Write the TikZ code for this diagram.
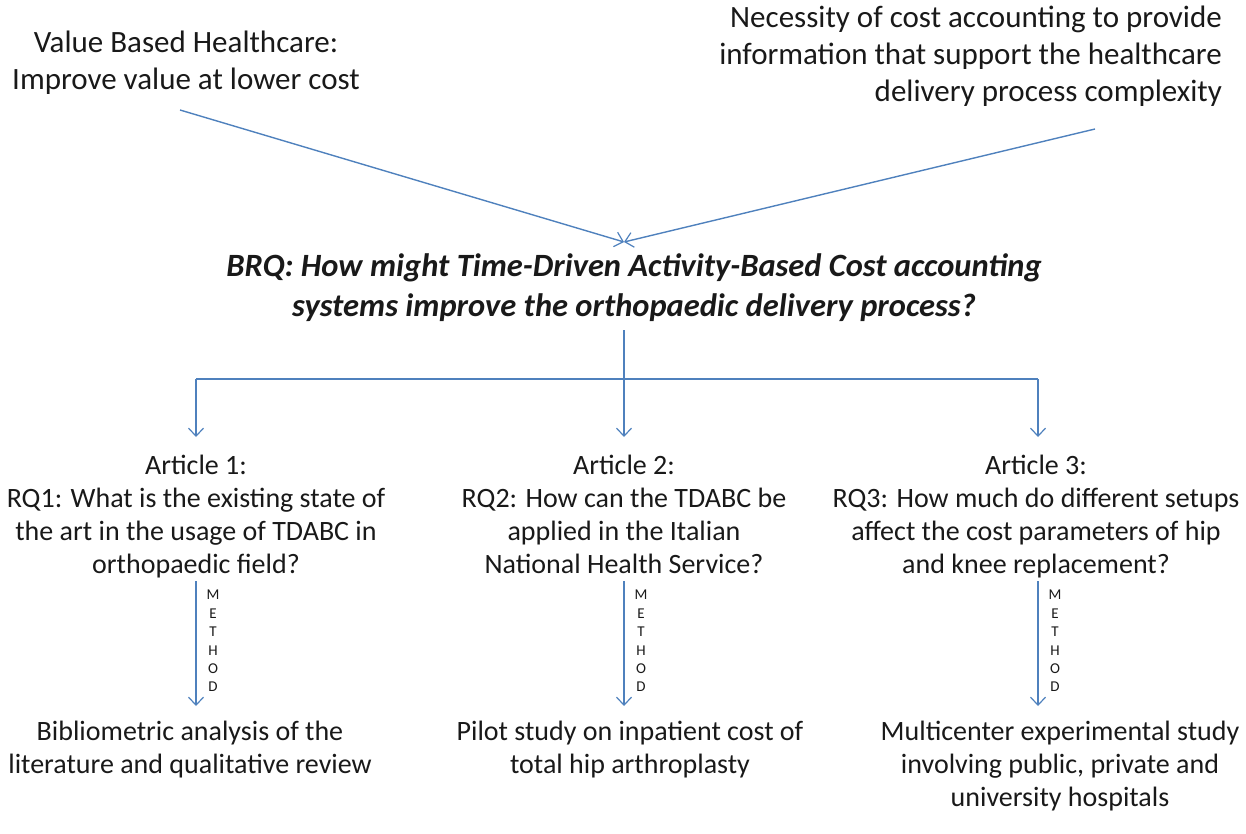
\documentclass[tikz,border=0pt]{standalone}
\usepackage{fontspec}
\setmainfont{Carlito}
\usetikzlibrary{arrows.meta}
\definecolor{linkblue}{RGB}{79,129,189}
\definecolor{inktext}{RGB}{25,25,25}
\tikzset{
  txt/.style={inner sep=0pt, align=center, text=inktext},
  toptxt/.style={txt, font=\fontsize{31}{37}\selectfont},
  bodytxt/.style={txt, font=\fontsize{28}{33}\selectfont},
  brqtxt/.style={txt, font=\fontsize{32.5}{40}\selectfont\bfseries\itshape},
  methodtxt/.style={txt, font=\fontsize{15}{18.4}\selectfont},
  link/.style={draw=linkblue, line width=1.4pt},
  arrowlink/.style={link, -{Straight Barb[length=8pt,width=15pt,line width=1.2pt]}},
}
\begin{document}
\begin{tikzpicture}[x=1pt,y=-1pt]
\useasboundingbox (0,0) rectangle (1246,834);

% premises
\node[toptxt] (vbh) at (186,63) {Value Based Healthcare:\\Improve value at lower cost};
\node[toptxt, align=right, anchor=east] (need) at (1222,56)
  {Necessity of cost accounting to provide\\information that support the healthcare\\delivery process complexity};

% main research question
\node[brqtxt] (brq) at (634,288)
  {BRQ: How might Time-Driven Activity-Based Cost accounting\\systems improve the orthopaedic delivery process?};

\coordinate (vbhout) at (180,110);
\coordinate (needout) at (1095,129);
\coordinate (brqin) at (624,242);
\draw[arrowlink] (vbhout) -- (brqin);
\draw[arrowlink] (needout) -- (brqin);

% branching to the three articles
\coordinate (brqout) at (624,330);
\coordinate (splitL) at (196,379);
\coordinate (splitR) at (1038,379);

% articles (top-aligned so the headings share one line)
\node[bodytxt, anchor=north] (art1) at (196,455)
  {Article 1:\\RQ1: What is the existing state of\\the art in the usage of TDABC in\\orthopaedic field?};
\node[bodytxt, anchor=north] (art2) at (624,455)
  {Article 2:\\RQ2: How can the TDABC be\\applied in the Italian\\National Health Service?};
\node[bodytxt, anchor=north] (art3) at (1036,455)
  {Article 3:\\RQ3: How much do different setups\\affect the cost parameters of hip\\and knee replacement?};

\coordinate (art1in) at (196,437);
\coordinate (art2in) at (624,437);
\coordinate (art3in) at (1038,437);

\draw[arrowlink] (brqout) -- (art2in);
\draw[link] (splitL) -- (splitR);
\draw[arrowlink] (splitL) -- (art1in);
\draw[arrowlink] (splitR) -- (art3in);

% methods
\coordinate (m1s) at (196,581);
\coordinate (m1e) at (196,706);
\coordinate (m2s) at (624,581);
\coordinate (m2e) at (624,706);
\coordinate (m3s) at (1038,581);
\coordinate (m3e) at (1038,706);
\draw[arrowlink] (m1s) -- (m1e);
\draw[arrowlink] (m2s) -- (m2e);
\draw[arrowlink] (m3s) -- (m3e);
\node[methodtxt] (lab1) at (213,641) {M\\E\\T\\H\\O\\D};
\node[methodtxt] (lab2) at (641,641) {M\\E\\T\\H\\O\\D};
\node[methodtxt] (lab3) at (1055,641) {M\\E\\T\\H\\O\\D};

% results
\node[bodytxt, anchor=north] (res1) at (190,721)
  {Bibliometric analysis of the\\literature and qualitative review};
\node[bodytxt, anchor=north] (res2) at (630,721)
  {Pilot study on inpatient cost of\\total hip arthroplasty};
\node[bodytxt, anchor=north] (res3) at (1060,721)
  {Multicenter experimental study\\involving public, private and\\university hospitals};
\end{tikzpicture}
\end{document}
